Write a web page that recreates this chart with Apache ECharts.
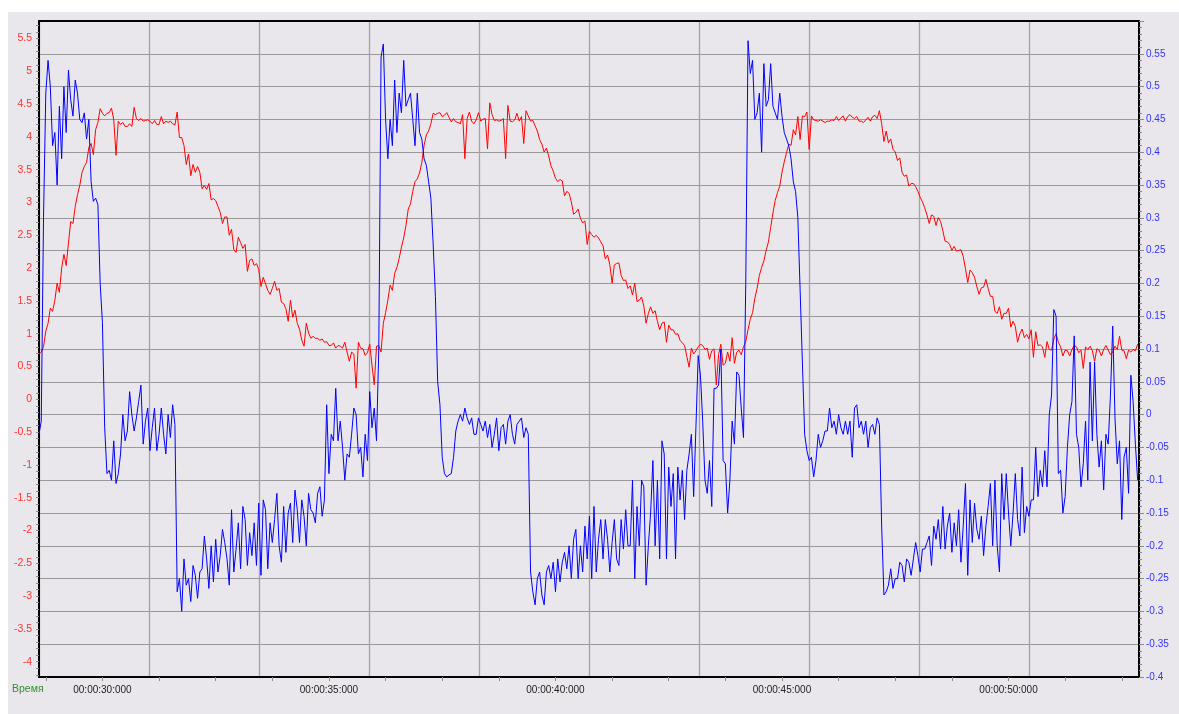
<!DOCTYPE html>
<html>
<head>
<meta charset="utf-8">
<script src="https://cdn.jsdelivr.net/npm/echarts@6.0.0/dist/echarts.min.js"></script>
<style>
  html, body { margin: 0; padding: 0; background: #ffffff; }
  #panel { position: absolute; left: 8px; top: 12px; width: 1171px; height: 702px; background: #e9e7ec; }
  #chart { position: absolute; left: 0; top: 0; width: 1179px; height: 714px; }
</style>
</head>
<body>
<div id="panel"></div>
<div id="chart"></div>
<script>
// Recording: two channels sampled every 50 ms, starting at 00:00:28.600
const sampleStart = 28.6;   // seconds
const sampleStep = 0.05;    // seconds

// Channel 1 (left scale, red)
const channelRed = [
  0.69,0.72,0.8,1.04,1.16,1.39,1.34,1.51,1.77,1.63,
  2.0,2.21,2.04,2.38,2.71,2.68,2.94,3.12,3.26,3.46,
  3.55,3.61,3.84,3.9,3.73,4.11,4.22,4.43,4.36,4.32,
  4.36,4.37,4.44,4.26,3.72,4.24,4.19,4.22,4.16,4.16,
  4.2,4.16,4.45,4.28,4.25,4.28,4.24,4.25,4.26,4.24,
  4.2,4.25,4.19,4.19,4.31,4.2,4.24,4.22,4.24,4.2,
  4.18,4.38,3.99,3.99,3.87,3.58,3.74,3.41,3.58,3.46,
  3.55,3.46,3.21,3.26,3.2,3.29,3.04,3.06,3.03,2.94,
  2.85,2.68,2.78,2.78,2.5,2.59,2.28,2.24,2.47,2.39,
  2.3,2.36,1.95,2.12,2.14,2.04,2.07,1.98,1.72,1.86,
  1.76,1.66,1.6,1.69,1.8,1.66,1.69,1.48,1.46,1.38,
  1.19,1.51,1.25,1.36,1.16,1.07,0.9,0.81,1.16,1.01,
  0.93,0.96,0.93,0.93,0.9,0.92,0.87,0.88,0.82,0.82,
  0.86,0.78,0.82,0.81,0.78,0.87,0.72,0.58,0.72,0.69,
  0.17,0.87,0.78,0.77,0.67,0.71,0.84,0.52,0.22,0.81,
  0.82,0.72,1.16,1.32,1.51,1.74,1.66,1.92,2.01,2.15,
  2.32,2.46,2.65,2.9,2.98,3.17,3.32,3.36,3.45,3.61,
  3.87,4.03,4.09,4.2,4.36,4.34,4.36,4.37,4.31,4.33,
  4.37,4.3,4.23,4.28,4.23,4.22,4.2,4.34,3.67,4.28,
  4.38,4.24,4.2,4.26,4.37,4.24,4.27,4.28,3.82,4.52,
  4.34,4.25,4.26,4.24,4.25,4.28,3.67,4.48,4.24,4.23,
  4.26,4.36,4.24,4.31,3.9,4.4,4.32,4.24,4.25,4.17,
  4.09,3.96,3.89,3.77,3.83,3.71,3.56,3.48,3.37,3.32,
  3.35,3.33,3.1,3.17,3.14,3.01,2.82,2.85,2.9,2.76,
  2.69,2.72,2.36,2.56,2.51,2.47,2.5,2.46,2.4,2.34,
  2.14,2.2,2.05,1.77,2.05,2.07,2.08,1.89,1.81,1.82,
  1.69,1.73,1.59,1.77,1.49,1.51,1.56,1.42,1.16,1.31,
  1.41,1.31,1.35,1.19,1.06,1.16,1.18,0.87,1.13,1.06,
  1.06,0.99,1.0,0.9,0.86,0.82,0.65,0.49,0.78,0.69,
  0.74,0.8,0.84,0.82,0.76,0.78,0.61,0.74,0.77,0.22,
  0.68,0.84,0.52,0.55,0.72,0.58,0.94,0.55,0.72,0.75,
  0.68,0.8,0.88,1.06,1.22,1.32,1.54,1.69,1.89,2.01,
  2.11,2.27,2.4,2.62,2.84,3.03,3.15,3.25,3.46,3.62,
  3.76,3.89,3.87,4.11,4.03,4.31,3.96,4.32,4.31,4.38,
  3.81,4.32,4.26,4.25,4.24,4.26,4.24,4.22,4.24,4.24,
  4.26,4.25,4.31,4.25,4.29,4.32,4.24,4.31,4.34,4.3,
  4.28,4.31,4.24,4.24,4.22,4.26,4.3,4.24,4.31,4.33,
  4.28,4.4,4.2,3.93,4.09,3.91,3.97,3.81,3.77,3.64,
  3.68,3.46,3.4,3.42,3.25,3.29,3.29,3.24,3.17,3.08,
  3.01,2.92,2.81,2.68,2.81,2.79,2.65,2.77,2.71,2.57,
  2.41,2.4,2.36,2.27,2.33,2.26,2.27,2.28,2.18,1.99,
  1.78,1.97,1.93,1.86,1.72,1.6,1.7,1.71,1.83,1.69,
  1.57,1.57,1.34,1.31,1.41,1.22,1.31,1.31,1.39,1.1,
  1.19,1.11,0.87,1.0,1.07,0.94,0.99,0.92,1.06,0.64,
  1.03,0.82,0.83,0.8,0.64,0.88,0.76,0.75,0.92,1.0,
  0.87,0.8,0.66,0.75,0.74,0.66,0.76,0.82,0.8,0.71,
  0.75,0.47,0.8,0.76,0.81,0.74,0.58,0.77,0.75,0.66,
  0.76,0.82,0.75,0.68,0.72,0.81,0.76,0.96,0.75,0.74,
  0.62,0.75,0.72,0.76,0.74,0.84
];

// Channel 2 (right scale, blue)
const channelBlue = [
  -0.03,-0.01,0.3,0.49,0.54,0.5,0.41,0.43,0.35,0.47,
  0.39,0.5,0.43,0.525,0.48,0.455,0.51,0.49,0.45,0.445,
  0.46,0.42,0.45,0.355,0.325,0.33,0.32,0.2,0.14,-0.02,
  -0.09,-0.085,-0.1,-0.04,-0.105,-0.09,-0.06,0,-0.04,-0.025,
  0.035,0,-0.025,-0.005,0.02,0.045,-0.045,-0.01,0.01,-0.055,
  -0.02,0.01,-0.055,-0.03,0.01,-0.03,-0.06,0,-0.035,0.015,
  -0.015,-0.27,-0.25,-0.3,-0.22,-0.26,-0.25,-0.285,-0.23,-0.245,
  -0.28,-0.24,-0.235,-0.185,-0.22,-0.265,-0.2,-0.255,-0.19,-0.24,
  -0.215,-0.175,-0.195,-0.22,-0.26,-0.145,-0.24,-0.205,-0.165,-0.235,
  -0.14,-0.16,-0.23,-0.18,-0.215,-0.165,-0.23,-0.135,-0.245,-0.13,
  -0.145,-0.235,-0.165,-0.195,-0.16,-0.12,-0.2,-0.225,-0.14,-0.21,
  -0.15,-0.135,-0.195,-0.115,-0.145,-0.195,-0.13,-0.155,-0.2,-0.12,
  -0.145,-0.15,-0.165,-0.12,-0.11,-0.155,-0.13,0.015,-0.09,-0.03,
  -0.04,0.04,-0.04,-0.01,-0.05,-0.1,-0.06,-0.065,-0.03,0.01,
  0,-0.06,-0.05,-0.095,-0.03,-0.07,0.035,-0.02,0.01,-0.04,
  0.1,0.545,0.565,0.45,0.39,0.45,0.41,0.51,0.43,0.49,
  0.46,0.54,0.47,0.48,0.49,0.45,0.41,0.49,0.43,0.42,
  0.39,0.38,0.355,0.33,0.26,0.18,0.05,0.015,-0.065,-0.09,
  -0.095,-0.092,-0.09,-0.065,-0.025,-0.01,0,-0.01,0.01,-0.005,
  -0.015,-0.005,-0.03,-0.03,-0.005,-0.015,-0.025,-0.01,-0.035,-0.015,
  -0.05,-0.03,-0.005,-0.055,-0.02,-0.015,-0.045,-0.01,0,-0.03,
  -0.045,-0.015,-0.01,-0.005,-0.035,-0.02,-0.03,-0.24,-0.27,-0.29,
  -0.25,-0.24,-0.275,-0.29,-0.24,-0.23,-0.25,-0.225,-0.27,-0.22,
  -0.255,-0.225,-0.21,-0.235,-0.2,-0.25,-0.19,-0.175,-0.25,-0.2,
  -0.24,-0.17,-0.22,-0.155,-0.25,-0.14,-0.24,-0.19,-0.16,-0.22,
  -0.16,-0.19,-0.24,-0.195,-0.16,-0.22,-0.23,-0.16,-0.205,-0.145,
  -0.2,-0.2,-0.1,-0.25,-0.14,-0.2,-0.1,-0.11,-0.26,-0.2,
  -0.15,-0.07,-0.2,-0.1,-0.22,-0.04,-0.06,-0.22,-0.08,-0.14,
  -0.09,-0.22,-0.08,-0.13,-0.085,-0.16,-0.085,-0.06,-0.03,-0.125,
  -0.02,0.09,0.06,-0.01,-0.1,-0.12,-0.07,-0.14,0.04,0.04,
  0.045,0.1,-0.07,-0.075,-0.15,-0.1,-0.01,-0.045,0.065,0.06,
  0.01,-0.035,0.2,0.57,0.52,0.54,0.45,0.46,0.49,0.4,
  0.535,0.47,0.48,0.535,0.47,0.46,0.45,0.49,0.455,0.43,
  0.42,0.41,0.39,0.355,0.34,0.3,0.19,0.08,-0.03,-0.055,
  -0.07,-0.065,-0.095,-0.07,-0.03,-0.05,-0.04,-0.025,-0.025,0.01,
  -0.02,-0.01,-0.03,0,-0.02,-0.03,-0.01,-0.03,-0.01,-0.065,
  0.01,0.015,-0.02,-0.01,-0.03,-0.01,-0.05,-0.02,-0.015,-0.03,
  -0.005,-0.015,-0.17,-0.275,-0.27,-0.26,-0.235,-0.265,-0.25,-0.25,
  -0.225,-0.23,-0.255,-0.22,-0.225,-0.245,-0.22,-0.195,-0.215,-0.24,
  -0.205,-0.205,-0.195,-0.185,-0.23,-0.17,-0.19,-0.16,-0.205,-0.14,
  -0.205,-0.17,-0.15,-0.21,-0.165,-0.2,-0.145,-0.225,-0.17,-0.105,
  -0.245,-0.13,-0.195,-0.135,-0.175,-0.19,-0.155,-0.215,-0.17,-0.14,
  -0.105,-0.2,-0.1,-0.2,-0.24,-0.09,-0.16,-0.09,-0.15,-0.2,
  -0.15,-0.09,-0.16,-0.185,-0.08,-0.18,-0.14,-0.155,-0.13,-0.13,
  -0.05,-0.125,-0.085,-0.11,-0.055,-0.11,0,0.03,0.16,0.15,
  -0.09,-0.085,-0.15,-0.125,-0.05,0,0.02,0.12,-0.03,-0.05,
  -0.11,-0.075,-0.01,-0.1,0.08,-0.04,0.08,-0.03,-0.08,-0.04,
  -0.115,-0.03,-0.045,0.03,0.135,-0.005,-0.075,-0.04,-0.16,-0.065,
  -0.05,-0.12,0.06,0.02,-0.045,-0.1
];

// Time labels (seconds) and left-scale labels
const timeLabels = [30, 35, 40, 45, 50];
const leftLabels = [-4, -3.5, -3, -2.5, -2, -1.5, -1, -0.5, 0, 0.5, 1, 1.5, 2, 2.5, 3, 3.5, 4, 4.5, 5, 5.5];

// Visible ranges
const timeMin = 28.6, timeMax = 52.88;
const leftMin = -4.233, leftMax = 5.767;
const rightMin = -0.4, rightMax = 0.6;

// Tick positions for the minor marks
const timeTicks = [];
for (let t = 28.75; t < timeMax; t += 1.25) timeTicks.push(+t.toFixed(2));
const leftTicks = [];
for (let v = -4.2; v < leftMax; v += 0.1) leftTicks.push(+v.toFixed(1));

const redPoints = channelRed.map((v, i) => [sampleStart + i * sampleStep, v]);
const bluePoints = channelBlue.map((v, i) => [sampleStart + i * sampleStep, v]);

function pad2(n) { return (n < 10 ? '0' : '') + n; }
function fmtTime(v) {
  const s = Math.round(v);
  return '00:' + pad2(Math.floor(s / 60)) + ':' + pad2(s % 60) + ':000';
}

const font = '"Liberation Sans", Arial, sans-serif';
const frame = { show: true, onZero: false, lineStyle: { color: '#000', width: 2 } };
const chart = echarts.init(document.getElementById('chart'), null, { renderer: 'canvas' });

chart.setOption({
  animation: false,
  backgroundColor: 'transparent',
  grid: { left: 39, right: 40, top: 21, bottom: 37, show: false },
  xAxis: [
    {
      type: 'value', min: timeMin, max: timeMax, position: 'bottom',
      axisLine: frame,
      axisTick: { show: true, customValues: timeTicks, length: 4, lineStyle: { color: '#8a8a8a' } },
      axisLabel: {
        customValues: timeLabels, formatter: fmtTime, margin: 8,
        color: '#222', fontSize: 10, fontFamily: font
      },
      splitLine: { show: false }
    },
    {
      // ten equal divisions for the vertical grid
      type: 'value', min: 0, max: 10, interval: 1, position: 'top',
      axisLine: frame, axisTick: { show: false }, axisLabel: { show: false },
      splitLine: { show: true, lineStyle: { color: '#a3a3a3', width: 1.3 } }
    }
  ],
  yAxis: [
    {
      type: 'value', min: leftMin, max: leftMax, position: 'left',
      axisLine: frame,
      axisTick: { show: true, customValues: leftTicks, length: 3, lineStyle: { color: '#8a8a8a' } },
      axisLabel: {
        customValues: leftLabels, margin: 7,
        formatter: v => String(Math.round(v * 10) / 10),
        color: '#ff3333', fontSize: 10.5, fontFamily: font
      },
      splitLine: { show: false }
    },
    {
      type: 'value', min: rightMin, max: rightMax, interval: 0.05, position: 'right',
      axisLine: frame,
      axisTick: { show: true, length: 5, lineStyle: { color: '#8a8a8a' } },
      minorTick: { show: true, splitNumber: 5, length: 3, lineStyle: { color: '#8a8a8a' } },
      axisLabel: {
        margin: 7, color: '#3333ff', fontSize: 10, fontFamily: font,
        formatter: v => (Math.abs(v - rightMax) < 1e-9 ? '' : String(Math.round(v * 100) / 100))
      },
      splitLine: { show: true, lineStyle: { color: '#999999', width: 1.2 } }
    }
  ],
  graphic: [
    {
      type: 'text', left: 12, top: 684,
      style: { text: 'Время', fill: '#2f8f2f', font: '10.5px ' + font }
    }
  ],
  series: [
    {
      type: 'line', xAxisIndex: 0, yAxisIndex: 0, data: redPoints,
      showSymbol: false, symbol: 'none',
      lineStyle: { color: '#ff0000', width: 1 }, z: 3
    },
    {
      type: 'line', xAxisIndex: 0, yAxisIndex: 1, data: bluePoints,
      showSymbol: false, symbol: 'none',
      lineStyle: { color: '#0000ff', width: 1 }, z: 4
    }
  ]
});
</script>
</body>
</html>
